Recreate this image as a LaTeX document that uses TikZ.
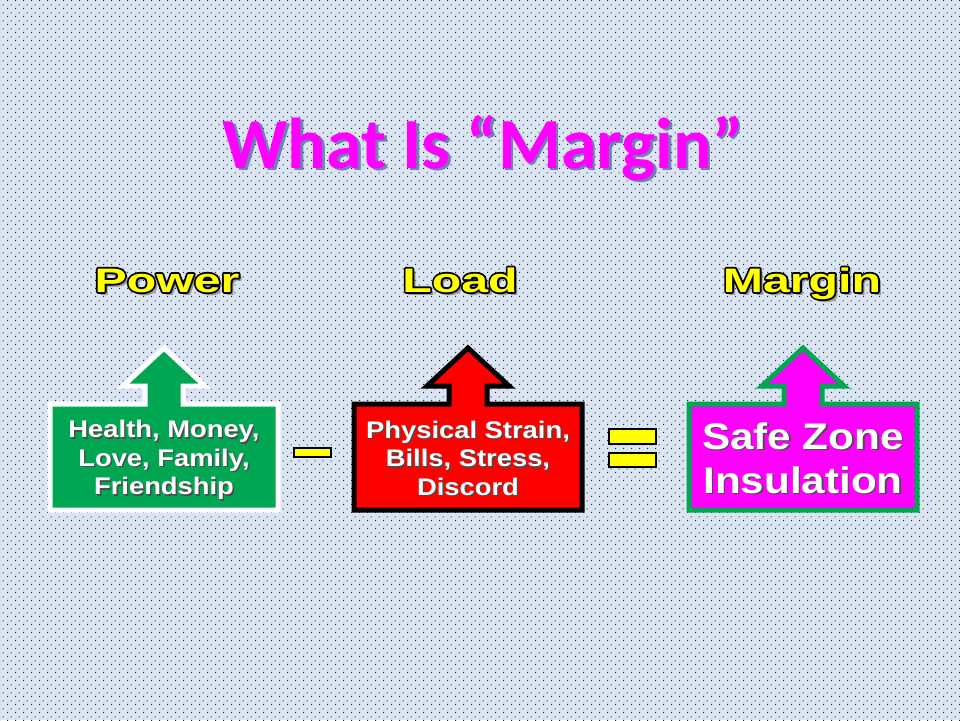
\documentclass[tikz,border=0pt]{standalone}
\usepackage{fontspec}
\setmainfont{Liberation Sans}
\newfontfamily\titlefont{Carlito}
\newfontfamily\labelfont{Liberation Sans}[FakeStretch=1.42]
\newfontfamily\boxfont{Liberation Sans}[FakeStretch=1.14]
\usepackage{tikz}
\usetikzlibrary{patterns}

\definecolor{slidebg}{RGB}{219,229,242}
\definecolor{dotcol}{RGB}{25,35,60}
\definecolor{powergreen}{RGB}{0,166,81}
\definecolor{loadred}{RGB}{255,0,0}
\definecolor{marginpink}{RGB}{255,0,255}
\definecolor{titleshade}{RGB}{110,130,180}
\definecolor{signyellow}{RGB}{255,255,0}

\pgfdeclarepatternformonly{slidedots}{\pgfpointorigin}{\pgfpoint{8pt}{8pt}}{\pgfpoint{8pt}{8pt}}{%
  \pgfpathrectangle{\pgfpoint{0pt}{0pt}}{\pgfpoint{1.2pt}{1.2pt}}%
  \pgfpathrectangle{\pgfpoint{4pt}{4pt}}{\pgfpoint{1.2pt}{1.2pt}}%
  \pgfusepath{fill}}

% text with a drop shadow: shadow colour, offset, text
\newcommand\shadetext[3]{\makebox[0pt][l]{\kern#2\raisebox{-#2}{\textcolor{#1}{#3}}}#3}
% black rim drawn under the letters (stroke only)
\newcommand\rimtext[1]{\special{pdf:code q 1 Tr 0 0 0 RG 3.6 w 1 j}#1\special{pdf:code Q}}
% yellow heading: shadow, rim, then the letters
\newcommand\headtext[1]{\makebox[0pt][l]{\kern3pt\raisebox{-3pt}{\textcolor{black!40}{#1}}}%
  \makebox[0pt][l]{\rimtext{#1}}#1}
% box with an up arrow on top: style, centre x
\newcommand\upbox[2]{%
  \draw[#1] (#2-114,404) -- (#2-114,510) -- (#2+114,510) -- (#2+114,404)
    -- (#2+19,404) -- (#2+19,386) -- (#2+41,386) -- (#2,348)
    -- (#2-41,386) -- (#2-19,386) -- (#2-19,404) -- cycle;}

\begin{document}
\begin{tikzpicture}[x=1pt,y=-1pt,
    heading/.style={anchor=base,text=signyellow,font=\labelfont\bfseries\fontsize{34}{34}\selectfont},
    boxtext/.style={align=center,text=white,font=\boxfont\bfseries\fontsize{24}{28.5}\selectfont},
    sign/.style={fill=signyellow,draw=black}]
  \useasboundingbox (0,0) rectangle (960,720);
  \fill[slidebg] (0,0) rectangle (960,720);
  \fill[pattern=slidedots,pattern color=dotcol] (0,0) rectangle (960,720);

  \node[anchor=base,text=marginpink,font=\titlefont\bfseries\fontsize{72}{72}\selectfont]
    (title) at (483,168) {\shadetext{titleshade}{2.5pt}{What Is “Margin”}};

  \node[heading] (power) at (167,292) {\headtext{Power}};
  \node[heading] (load) at (460,292) {\headtext{Load}};
  \node[heading] (margin) at (802,292) {\headtext{Margin}};

  % the three arrow boxes
  \upbox{fill=powergreen,draw=white,line width=5pt}{164}
  \upbox{fill=loadred,draw=black,line width=5pt}{468}
  \upbox{fill=marginpink,draw=powergreen,line width=5pt}{803}

  \node[boxtext] (powerbox) at (164,461) {%
    \shadetext{black!70}{1.5pt}{Health, Money,}\\
    \shadetext{black!70}{1.5pt}{Love, Family,}\\
    \shadetext{black!70}{1.5pt}{Friendship}};
  \node[boxtext] (loadbox) at (468,459) {%
    \shadetext{black!70}{1.5pt}{Physical Strain,}\\
    \shadetext{black!70}{1.5pt}{Bills, Stress,}\\
    \shadetext{black!70}{1.5pt}{Discord}};
  \node[boxtext,font=\boxfont\bfseries\fontsize{37}{44}\selectfont] (marginbox) at (803,459) {%
    \shadetext{black!70}{1.5pt}{Safe Zone}\\
    \shadetext{black!70}{1.5pt}{Insulation}};

  % minus and equals signs
  \draw[sign,line width=1.5pt] (294,448) rectangle (331,457);
  \draw[sign,line width=2.5pt] (609,429) rectangle (656,444);
  \draw[sign,line width=2.5pt] (609,453) rectangle (656,467);
\end{tikzpicture}
\end{document}
